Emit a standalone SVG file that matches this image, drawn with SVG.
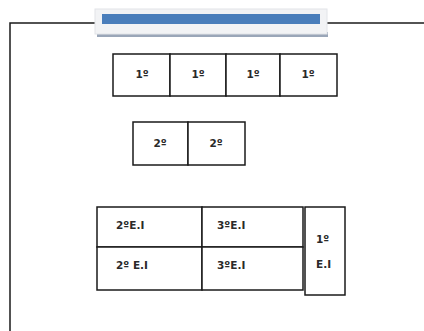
<svg xmlns="http://www.w3.org/2000/svg" width="424" height="331" viewBox="0 0 424 331">
<style>
.c{fill:#fff;stroke:#1a1a1a;stroke-width:1.5}
.t{font-family:"DejaVu Sans",sans-serif;font-size:10.5px;font-weight:bold;fill:#2a2a2a}
.m{text-anchor:middle}
.ln{fill:none;stroke:#1a1a1a;stroke-width:1.5}
</style>
<rect width="424" height="331" fill="#fff"/>
<g id="connectors">
<polyline class="ln" points="96,23 10,23 10,331"/>
<line class="ln" x1="327" y1="23" x2="424" y2="23"/>
</g>
<g id="title-bar">
<rect x="97" y="32" width="231" height="5" fill="#9aa6b8"/>
<rect x="95" y="9" width="232" height="25" fill="#f2f3f5" stroke="#e2e4e8" stroke-width="1"/>
<rect x="102" y="14" width="218" height="10" fill="#4a7ebb"/>
</g>
<g id="row1">
<rect class="c" x="113" y="54" width="57" height="42"/>
<rect class="c" x="170" y="54" width="56" height="42"/>
<rect class="c" x="226" y="54" width="54" height="42"/>
<rect class="c" x="280" y="54" width="57" height="42"/>
<text class="t m" x="142" y="78">1º</text>
<text class="t m" x="198" y="78">1º</text>
<text class="t m" x="253" y="78">1º</text>
<text class="t m" x="308" y="78">1º</text>
</g>
<g id="row2">
<rect class="c" x="133" y="122" width="55" height="43"/>
<rect class="c" x="188" y="122" width="57" height="43"/>
<text class="t m" x="160" y="147">2º</text>
<text class="t m" x="216" y="147">2º</text>
</g>
<g id="grid">
<rect class="c" x="97" y="207" width="105" height="40"/>
<rect class="c" x="202" y="207" width="101" height="40"/>
<rect class="c" x="97" y="247" width="105" height="43"/>
<rect class="c" x="202" y="247" width="101" height="43"/>
<text class="t" x="116" y="229">2ºE.I</text>
<text class="t" x="217" y="229">3ºE.I</text>
<text class="t" x="116" y="269">2º E.I</text>
<text class="t" x="217" y="269">3ºE.I</text>
</g>
<g id="tall">
<rect class="c" x="305" y="207" width="40" height="88"/>
<text class="t" x="316" y="243">1º</text>
<text class="t" x="316" y="268">E.I</text>
</g>
</svg>
